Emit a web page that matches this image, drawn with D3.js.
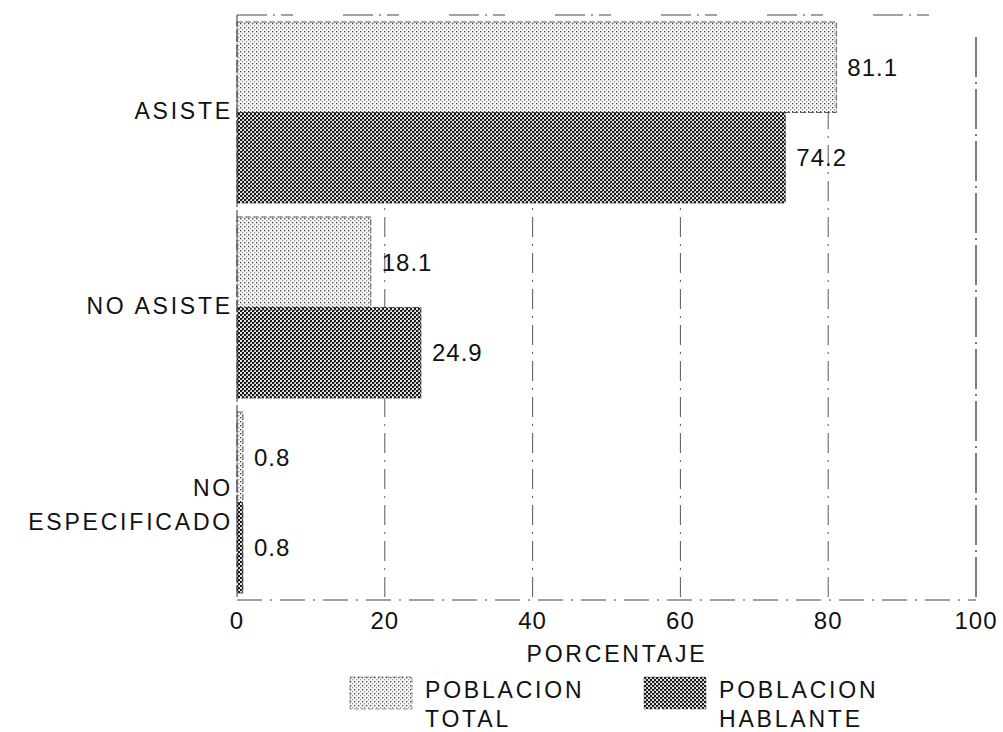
<!DOCTYPE html>
<html>
<head>
<meta charset="utf-8">
<script src="https://cdn.jsdelivr.net/npm/d3@7"></script>
<style>
  body { margin: 0; background: #fff; }
  svg text { font-family: "Liberation Sans", Arial, sans-serif; fill: #111; }
</style>
</head>
<body>
<div id="chart"></div>
<script>
// categories and series
const categories = ["ASISTE", "NO ASISTE", "NO ESPECIFICADO"]
const seriesNames = ["POBLACION TOTAL", "POBLACION HABLANTE"]
const total = [81.1, 18.1, 0.8]
const hablante = [74.2, 24.9, 0.8]
const ticks = [0, 20, 40, 60, 80, 100]

const w = 1003, h = 732
const margin = {top: 15, right: 27, bottom: 132, left: 237}
const fs = 23
const ls = 2.8

let svg = d3.select('#chart').append('svg')
	.attr('width', w)
	.attr('height', h)

//patterns for the two series
let defs = svg.append('defs')
let pTot = defs.append('pattern').attr('id', 'pTotal')
	.attr('width', 4).attr('height', 4).attr('patternUnits', 'userSpaceOnUse')
pTot.append('rect').attr('width', 4).attr('height', 4).attr('fill', '#f6f6f6')
pTot.append('rect').attr('x', 0).attr('y', 0).attr('width', 1.3).attr('height', 1.3).attr('fill', '#444')
pTot.append('rect').attr('x', 2).attr('y', 2).attr('width', 1.3).attr('height', 1.3).attr('fill', '#999')

let pHab = defs.append('pattern').attr('id', 'pHablante')
	.attr('width', 4).attr('height', 4).attr('patternUnits', 'userSpaceOnUse')
pHab.append('rect').attr('width', 4).attr('height', 4).attr('fill', '#e0e0e0')
pHab.append('rect').attr('x', 0).attr('y', 0).attr('width', 2).attr('height', 2).attr('fill', '#1a1a1a')
pHab.append('rect').attr('x', 2).attr('y', 2).attr('width', 2).attr('height', 2).attr('fill', '#1a1a1a')
pHab.append('rect').attr('x', 2).attr('y', 0).attr('width', 1).attr('height', 1).attr('fill', '#777')

const fills = ['url(#pTotal)', 'url(#pHablante)']

let x = d3.scaleLinear().domain([0, 100]).range([margin.left, w - margin.right])
let y = d3.scaleBand().domain(categories).range([margin.top, h - margin.bottom]).paddingInner(0).paddingOuter(0)
let ySub = d3.scaleBand().domain([0, 1]).range([0, y.bandwidth()]).paddingOuter(0.077).paddingInner(0)

//gridlines, dash-dot like the original
svg.append('g').selectAll('line')
	.data(ticks.filter(t => t > 0))
	.join('line')
	.attr('x1', d => x(d)).attr('x2', d => x(d))
	.attr('y1', margin.top + 22).attr('y2', h - margin.bottom)
	.attr('stroke', '#444')
	.attr('stroke-width', d => d == 100 ? 1.4 : 0.9)
	.attr('stroke-dasharray', d => d == 100 ? '40,5,2,5' : '20,7,2,7')

//frame top and bottom
svg.append('line')
	.attr('x1', x(0)).attr('x2', x(100))
	.attr('y1', margin.top).attr('y2', margin.top)
	.attr('stroke', '#444').attr('stroke-dasharray', '30,6,2,6,12,50')
svg.append('line')
	.attr('x1', x(0)).attr('x2', x(100))
	.attr('y1', h - margin.bottom).attr('y2', h - margin.bottom)
	.attr('stroke', '#444').attr('stroke-dasharray', '25,8,2,8')

//bars
let groups = svg.append('g').selectAll('g')
	.data(categories)
	.join('g')
	.attr('transform', d => `translate(0,${y(d)})`)

groups.each(function(cat, i) {
	let vals = [total[i], hablante[i]]
	let g = d3.select(this)
	g.selectAll('rect')
		.data(vals)
		.join('rect')
		.attr('x', x(0))
		.attr('y', (d, j) => ySub(j))
		.attr('width', d => Math.max(x(d) - x(0), 3))
		.attr('height', ySub.bandwidth())
		.attr('fill', (d, j) => fills[j])
		.attr('stroke', '#333')
		.attr('stroke-width', 0.8)
		.attr('stroke-dasharray', '6,2')
	g.selectAll('text.val')
		.data(vals)
		.join('text')
		.attr('class', 'val')
		.attr('x', d => x(d) + 11)
		.attr('y', (d, j) => ySub(j) + ySub.bandwidth() / 2)
		.attr('dy', '0.36em')
		.attr('font-size', 24)
		.attr('letter-spacing', 1)
		.text(d => d.toFixed(1))
})

//left axis line
svg.append('line')
	.attr('x1', x(0)).attr('x2', x(0))
	.attr('y1', margin.top).attr('y2', h - margin.bottom)
	.attr('stroke', '#333').attr('stroke-dasharray', '12,3')

//category labels
svg.append('g').selectAll('text')
	.data(categories)
	.join('text')
	.attr('text-anchor', 'end')
	.attr('font-size', fs)
	.attr('letter-spacing', ls)
	.attr('y', d => y(d) + y.bandwidth() / 2)
	.each(function(d) {
		let words = d == 'NO ESPECIFICADO' ? ['NO', 'ESPECIFICADO'] : [d]
		let t = d3.select(this)
		words.forEach((wd, k) => {
			t.append('tspan')
				.attr('x', x(0) - 4)
				.attr('dy', k == 0 ? (words.length == 1 ? '0.3em' : '-0.3em') : '1.5em')
				.text(wd)
		})
	})

//x tick labels
svg.append('g').selectAll('text')
	.data(ticks)
	.join('text')
	.attr('x', d => x(d))
	.attr('y', h - margin.bottom + 29)
	.attr('text-anchor', 'middle')
	.attr('font-size', 24)
	.attr('letter-spacing', 1)
	.text(d => d)

svg.append('text')
	.attr('x', 617).attr('y', h - margin.bottom + 62)
	.attr('text-anchor', 'middle')
	.attr('font-size', fs)
	.attr('letter-spacing', ls)
	.text('PORCENTAJE')

//legend
let legend = svg.append('g').selectAll('g')
	.data(seriesNames)
	.join('g')
	.attr('transform', (d, i) => `translate(${i == 0 ? 350 : 644},677)`)
legend.append('rect')
	.attr('width', 62).attr('height', 32)
	.attr('fill', (d, i) => fills[i])
	.attr('stroke', '#555').attr('stroke-width', 0.6).attr('stroke-dasharray', '5,2')
legend.append('text')
	.attr('x', 75).attr('y', 21)
	.attr('font-size', fs)
	.attr('letter-spacing', ls)
	.each(function(d) {
		let parts = d.split(' ')
		let t = d3.select(this)
		parts.forEach((p, k) => {
			t.append('tspan').attr('x', 75).attr('dy', k == 0 ? 0 : 29).text(p)
		})
	})
</script>
</body>
</html>
